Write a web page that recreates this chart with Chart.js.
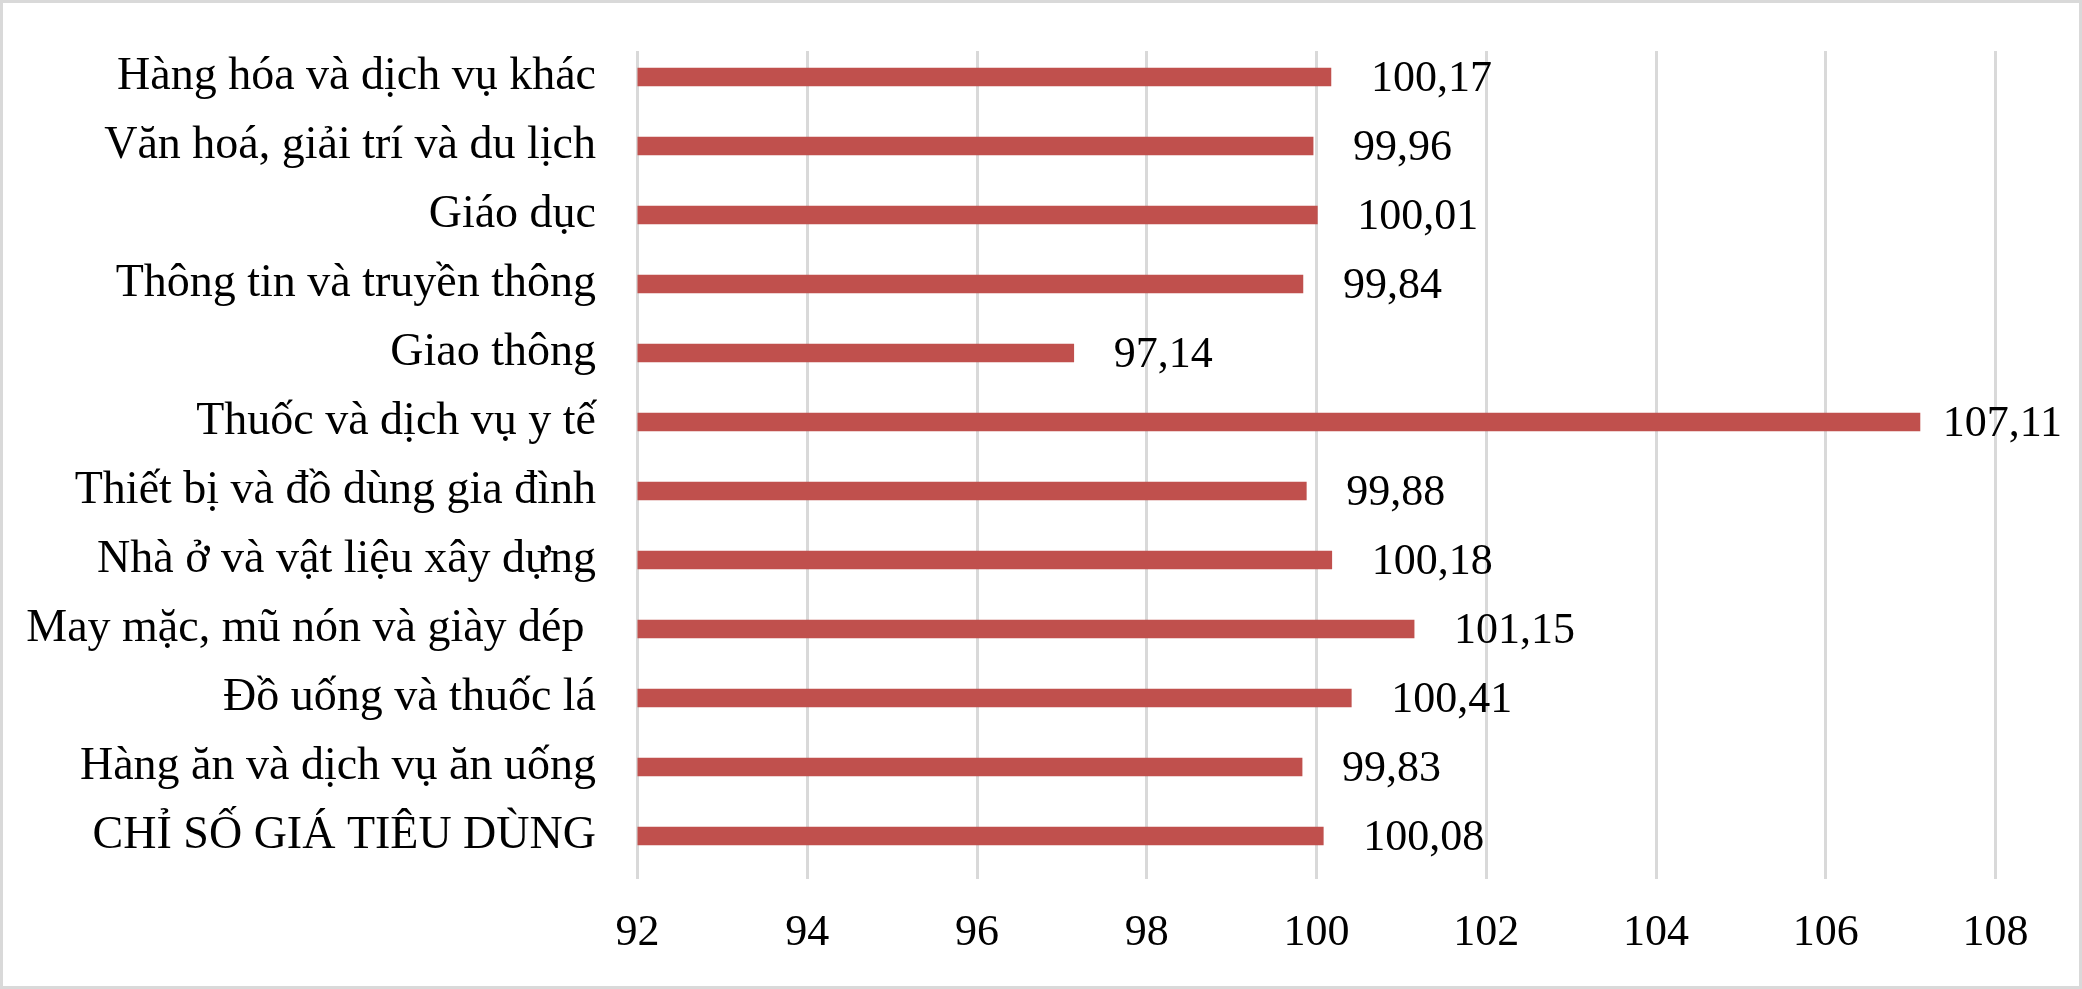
<!DOCTYPE html>
<html lang="vi">
<head>
<meta charset="utf-8">
<title>Chỉ số giá tiêu dùng theo nhóm hàng</title>
<script src="https://cdn.jsdelivr.net/npm/chart.js@4.4.1/dist/chart.umd.min.js"></script>
<style>
    html, body { margin: 0; padding: 0; background: #fff; }
    #khung { position: relative; width: 2082px; height: 989px; }
    #khung canvas { position: absolute; left: 0; top: 0; }
    #vien {
        position: absolute; left: 0; top: 0;
        width: 2082px; height: 989px;
        box-sizing: border-box;
        border: 3px solid #d9d9d9;
        pointer-events: none;
    }
</style>
</head>
<body>
<div id="khung">
    <canvas id="cpiChart" width="2082" height="989"></canvas>
    <div id="vien"></div>
</div>
<script>
    // ===== DỮ LIỆU =====
    const nhomHang = [
        'Hàng hóa và dịch vụ khác',
        'Văn hoá, giải trí và du lịch',
        'Giáo dục',
        'Thông tin và truyền thông',
        'Giao thông',
        'Thuốc và dịch vụ y tế',
        'Thiết bị và đồ dùng gia đình',
        'Nhà ở và vật liệu xây dựng',
        'May mặc, mũ nón và giày dép ',
        'Đồ uống và thuốc lá',
        'Hàng ăn và dịch vụ ăn uống',
        'CHỈ SỐ GIÁ TIÊU DÙNG'
    ];
    const chiSo = [100.17, 99.96, 100.01, 99.84, 97.14, 107.11, 99.88, 100.18, 101.15, 100.41, 99.83, 100.08];
    const mocTrucX = [92, 94, 96, 98, 100, 102, 104, 106, 108];

    const FONT_CHU = '"Liberation Serif", "Times New Roman", serif';

    // Định dạng số kiểu Việt Nam: 100,17
    function dinhDangSo(v) {
        return v.toFixed(2).replace('.', ',');
    }

    // Plugin vẽ nhãn giá trị bên phải mỗi thanh
    const nhanGiaTri = {
        id: 'nhanGiaTri',
        afterDatasetsDraw(chart) {
            const ctx = chart.ctx;
            const meta = chart.getDatasetMeta(0);
            ctx.save();
            ctx.font = '44px ' + FONT_CHU;
            ctx.fillStyle = '#000';
            ctx.textAlign = 'left';
            ctx.textBaseline = 'middle';
            meta.data.forEach(function (bar, i) {
                const text = dinhDangSo(chiSo[i]);
                const w = ctx.measureText(text).width;
                let x = bar.x + 40;
                // giữ nhãn trong khung biểu đồ
                if (x + w > chart.width - 20) x = chart.width - 20 - w;
                ctx.fillText(text, x, bar.y + 2);
            });
            ctx.restore();
        }
    };

    const ctx = document.getElementById('cpiChart').getContext('2d');
    new Chart(ctx, {
        type: 'bar',
        data: {
            datasets: [{
                data: chiSo.map(function (v, i) { return { x: v, y: i }; }),
                backgroundColor: '#C0504D',
                borderWidth: 0,
                barThickness: 18
            }]
        },
        options: {
            indexAxis: 'y',
            responsive: false,
            animation: false,
            devicePixelRatio: 1,
            layout: { padding: { top: 51, right: 86.5, bottom: 0, left: 0 } },
            plugins: {
                legend: { display: false },
                tooltip: { enabled: false }
            },
            scales: {
                x: {
                    type: 'linear',
                    min: mocTrucX[0],
                    max: mocTrucX[mocTrucX.length - 1],
                    afterBuildTicks: function (scale) {
                        scale.ticks = mocTrucX.map(function (v) { return { value: v }; });
                    },
                    ticks: {
                        color: '#000',
                        font: { family: FONT_CHU, size: 44 },
                        padding: 28,
                        maxRotation: 0
                    },
                    grid: { color: '#d9d9d9', lineWidth: 3, drawTicks: false },
                    border: { display: false },
                    afterFit: function (scale) { scale.height = 110; }
                },
                y: {
                    type: 'linear',
                    reverse: true,
                    offset: false,
                    min: -0.377,
                    max: 11.623,
                    afterBuildTicks: function (scale) {
                        scale.ticks = nhomHang.map(function (_, i) { return { value: i }; });
                    },
                    ticks: {
                        color: '#000',
                        font: { family: FONT_CHU, size: 46 },
                        padding: 41.5,
                        autoSkip: false,
                        callback: function (value) { return nhomHang[value]; }
                    },
                    grid: { display: false, drawTicks: false, offset: false },
                    border: { display: false },
                    afterFit: function (scale) {
                        scale.width = 637.5;
                        // bỏ phần đệm trên/dưới do nhãn gây ra
                        scale.paddingTop = 0;
                        scale.paddingBottom = 0;
                    }
                }
            }
        },
        plugins: [nhanGiaTri]
    });
</script>
</body>
</html>
